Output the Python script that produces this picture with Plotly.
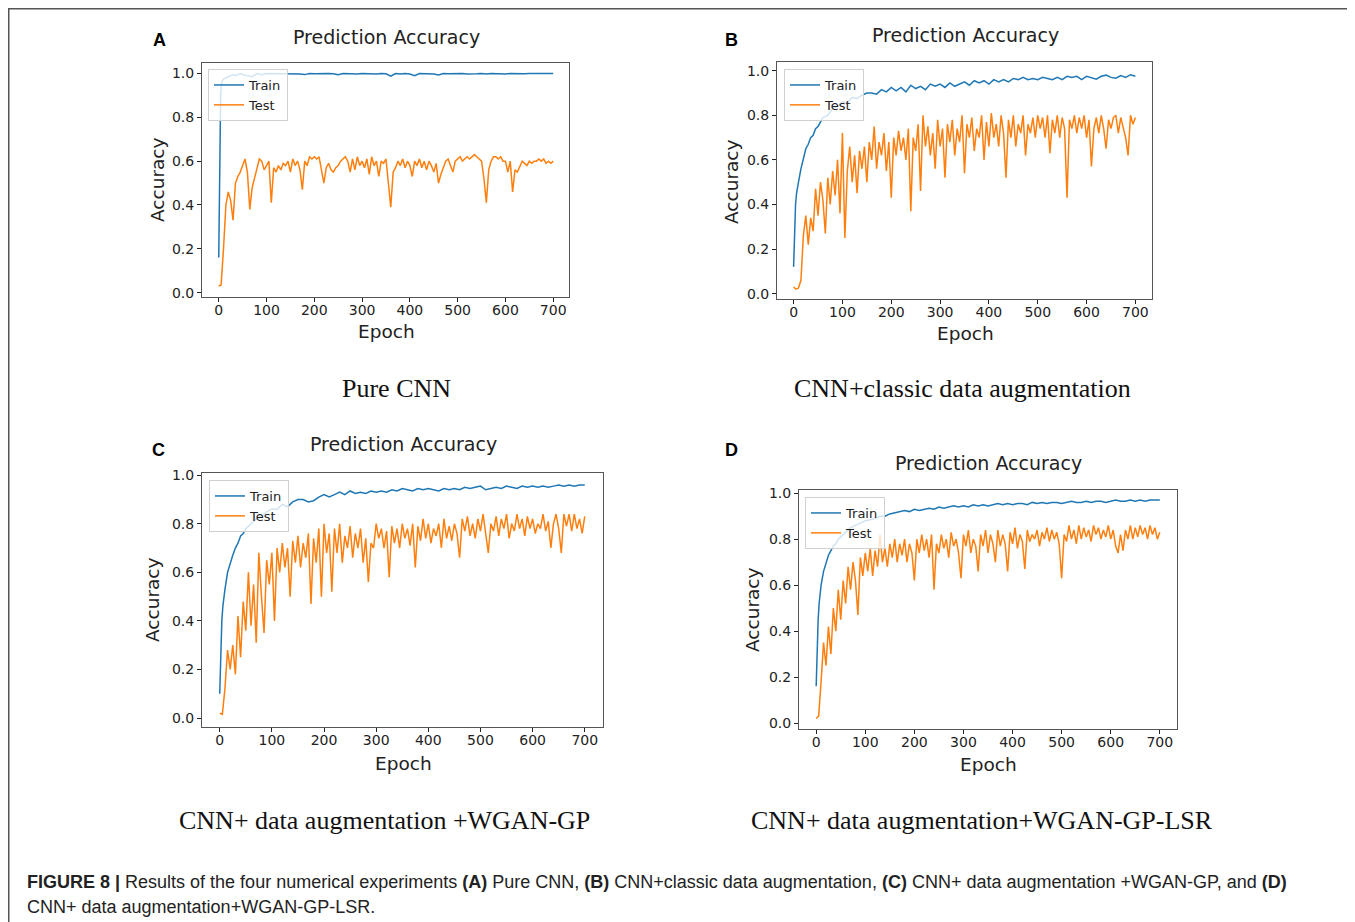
import plotly.graph_objects as go

# target picture size; the page body adds an 8px margin, so the figure is shifted by it
W, H = 1355, 922
OFF = 8
FW, FH = W - OFF, H - OFF

# epochs sampled for the test curves, and for the train curves
EPOCHS = list(range(0, 701, 5))
TRAIN_EPOCHS = [0, 2, 4, 6, 8, 10, 15, 20, 25, 30, 35, 40, 45, 50] + list(range(60, 701, 10))

# (A) Pure CNN
test_a = [0.03, 0.035, 0.2, 0.40, 0.46, 0.42, 0.33, 0.5, 0.53, 0.55, 0.58, 0.61, 0.55, 0.38, 0.48, 0.52, 0.57,
          0.61, 0.6, 0.56, 0.58, 0.6, 0.41, 0.57, 0.55, 0.58, 0.56, 0.59, 0.58, 0.6, 0.55, 0.61, 0.58, 0.6,
          0.56, 0.47, 0.6, 0.58, 0.62, 0.61, 0.62, 0.61, 0.62, 0.56, 0.5, 0.57, 0.59, 0.56, 0.55, 0.57, 0.58,
          0.6, 0.61, 0.62, 0.6, 0.55, 0.61, 0.56, 0.62, 0.58, 0.6, 0.57, 0.61, 0.54, 0.62, 0.58, 0.6, 0.53,
          0.6, 0.59, 0.61, 0.5, 0.39, 0.55, 0.57, 0.6, 0.58, 0.61, 0.57, 0.6, 0.58, 0.53, 0.6, 0.58, 0.61,
          0.57, 0.6, 0.56, 0.6, 0.58, 0.55, 0.59, 0.5, 0.54, 0.57, 0.6, 0.61, 0.58, 0.55, 0.6, 0.61, 0.62,
          0.6, 0.61, 0.62, 0.61, 0.62, 0.63, 0.62, 0.61, 0.6, 0.52, 0.41, 0.56, 0.6, 0.62, 0.62, 0.61, 0.62,
          0.6, 0.6, 0.55, 0.6, 0.46, 0.56, 0.55, 0.58, 0.6, 0.59, 0.58, 0.6, 0.59, 0.6, 0.6, 0.61, 0.6,
          0.61, 0.59, 0.6, 0.59, 0.6]
train_a = [0.16, 0.55, 0.9, 0.96, 0.97, 0.975, 0.98, 0.985, 0.99, 0.995, 0.99, 0.995, 1.0, 0.995,
           0.99, 0.985, 1.0, 0.995, 1.0,
           1.0, 0.998, 1.0, 0.999, 1.0, 1.0, 0.998, 0.995, 1.0, 0.999, 1.0, 0.998, 1.0, 0.999, 0.994,
           1.0, 0.999, 1.0, 0.998, 1.0, 0.999, 1.0, 0.998, 1.0, 0.999, 0.988, 1.0, 0.998, 1.0, 0.998,
           0.99, 1.0, 0.999, 1.0, 0.998, 0.993, 1.0, 0.999, 1.0, 0.999, 1.0, 0.998, 1.0, 0.999, 1.0,
           0.998, 1.0, 0.999, 1.0, 0.998, 1.0, 0.999, 1.0, 0.999, 1.0, 1.0, 0.999, 1.0, 1.0, 1.0]

# (B) CNN+classic data augmentation
test_b = [0.03, 0.02, 0.025, 0.06,
          0.26, 0.35, 0.22, 0.34, 0.28,
          0.47, 0.35, 0.5, 0.42, 0.27, 0.52, 0.4, 0.55, 0.44, 0.6, 0.36,
          0.72, 0.25, 0.55, 0.66, 0.5, 0.62, 0.45, 0.64, 0.56, 0.66, 0.5, 0.68, 0.6, 0.75, 0.56, 0.68, 0.62,
          0.72, 0.55, 0.68,
          0.43, 0.7, 0.62, 0.73, 0.64, 0.7, 0.6, 0.74, 0.37, 0.7, 0.64, 0.76, 0.46, 0.8, 0.66, 0.75, 0.62,
          0.72, 0.56, 0.78,
          0.66, 0.74, 0.52, 0.76, 0.68, 0.78, 0.62, 0.74, 0.68, 0.8, 0.54, 0.76, 0.7, 0.79, 0.64, 0.74, 0.7,
          0.8, 0.6, 0.77,
          0.66, 0.81, 0.7, 0.76, 0.66, 0.8, 0.72, 0.52, 0.78, 0.7, 0.8, 0.66, 0.76, 0.72, 0.8, 0.62, 0.76,
          0.72, 0.79, 0.7,
          0.8, 0.74, 0.79, 0.7, 0.8, 0.63, 0.78, 0.72, 0.8, 0.7, 0.79, 0.74, 0.43, 0.78, 0.74, 0.8, 0.72,
          0.79, 0.74, 0.8,
          0.7, 0.78, 0.57, 0.74, 0.79, 0.72, 0.8, 0.74, 0.65, 0.78, 0.74, 0.79, 0.8, 0.72, 0.79, 0.74, 0.7,
          0.62, 0.8, 0.76, 0.79]
train_b = [0.12, 0.3, 0.4, 0.45, 0.47, 0.5, 0.56, 0.6, 0.65, 0.67, 0.7, 0.71, 0.74, 0.75,
           0.79, 0.8, 0.83, 0.84, 0.86, 0.855, 0.88, 0.875, 0.89, 0.9, 0.9, 0.895, 0.915, 0.905, 0.925,
           0.91, 0.925, 0.905, 0.935, 0.92, 0.93, 0.915, 0.94, 0.93, 0.94, 0.925, 0.945, 0.93, 0.94, 0.95,
           0.935, 0.955, 0.945, 0.955, 0.94, 0.96, 0.95, 0.96, 0.95, 0.965, 0.96, 0.97, 0.96, 0.965, 0.96,
           0.97, 0.965, 0.96, 0.97, 0.96, 0.975, 0.97, 0.975, 0.96, 0.975, 0.97, 0.962, 0.975, 0.98, 0.97,
           0.966, 0.978, 0.97, 0.982, 0.975]

# (C) CNN+ data augmentation +WGAN-GP
test_c = [0.02, 0.015, 0.12, 0.28,
          0.2, 0.3, 0.18, 0.42, 0.25,
          0.48, 0.36, 0.6, 0.38, 0.55, 0.31, 0.68, 0.5, 0.35, 0.65, 0.55,
          0.68, 0.4, 0.7, 0.6, 0.72, 0.62, 0.7, 0.5, 0.73, 0.64, 0.75, 0.62, 0.72, 0.66, 0.76, 0.47, 0.74,
          0.64, 0.78, 0.5,
          0.8, 0.68, 0.76, 0.52, 0.78, 0.68, 0.8, 0.64, 0.75, 0.7, 0.79, 0.66, 0.76, 0.7, 0.78, 0.64, 0.74,
          0.56, 0.72, 0.7,
          0.8, 0.74, 0.78, 0.7, 0.77, 0.58, 0.79, 0.72, 0.78, 0.7, 0.8, 0.74, 0.78, 0.71, 0.8, 0.62, 0.79,
          0.73, 0.82, 0.74,
          0.8, 0.72, 0.78, 0.75, 0.8, 0.7, 0.82, 0.74, 0.79, 0.73, 0.8, 0.76, 0.66, 0.82, 0.77, 0.83, 0.75,
          0.8, 0.74, 0.82,
          0.77, 0.84, 0.76, 0.68, 0.8, 0.77, 0.83, 0.75, 0.82, 0.78, 0.84, 0.74, 0.8, 0.77, 0.84, 0.78,
          0.82, 0.75, 0.83, 0.78,
          0.82, 0.76, 0.8, 0.78, 0.84, 0.77, 0.81, 0.7, 0.8, 0.84, 0.78, 0.68, 0.84, 0.79, 0.84, 0.77,
          0.84, 0.78, 0.82, 0.76, 0.83]
train_c = [0.1, 0.3, 0.4, 0.46, 0.5, 0.53, 0.6, 0.64, 0.67, 0.7, 0.72, 0.75, 0.76, 0.78,
           0.8, 0.82, 0.83, 0.85, 0.86, 0.86, 0.88, 0.87, 0.89, 0.9, 0.9, 0.89, 0.895, 0.91, 0.92, 0.91,
           0.92, 0.93, 0.92, 0.935, 0.925, 0.93, 0.925, 0.935, 0.93, 0.935, 0.93, 0.94, 0.935, 0.945,
           0.94, 0.935, 0.945, 0.94, 0.945, 0.94, 0.935, 0.945, 0.94, 0.945, 0.94, 0.95, 0.945, 0.95,
           0.955, 0.94, 0.945, 0.95, 0.945, 0.955, 0.95, 0.945, 0.955, 0.95, 0.955, 0.95, 0.955, 0.95,
           0.955, 0.96, 0.955, 0.96, 0.955, 0.96, 0.96]

# (D) CNN+ data augmentation+WGAN-GP-LSR
test_d = [0.02, 0.03, 0.18, 0.35,
          0.25, 0.42, 0.3, 0.5, 0.4,
          0.58, 0.45, 0.62, 0.52, 0.68, 0.58, 0.7, 0.62, 0.47, 0.72, 0.64,
          0.74, 0.66, 0.76, 0.64, 0.75, 0.68, 0.82, 0.7, 0.76, 0.68, 0.78, 0.72, 0.8, 0.7, 0.78, 0.73, 0.8,
          0.7, 0.78, 0.74,
          0.62, 0.8, 0.74, 0.82, 0.75, 0.8, 0.72, 0.82, 0.58, 0.78, 0.74, 0.82, 0.76, 0.8, 0.72, 0.83, 0.77,
          0.8, 0.74, 0.63,
          0.82, 0.77, 0.84, 0.74, 0.8, 0.77, 0.66, 0.82, 0.77, 0.84, 0.74, 0.82, 0.78, 0.7, 0.84, 0.77,
          0.82, 0.78, 0.66, 0.83,
          0.78, 0.85, 0.76, 0.82, 0.79, 0.67, 0.84, 0.79, 0.82, 0.8, 0.84, 0.77, 0.83, 0.8, 0.85, 0.79,
          0.84, 0.8, 0.83, 0.78,
          0.63, 0.82, 0.79, 0.86, 0.8, 0.84, 0.78, 0.86, 0.8, 0.85, 0.81, 0.84, 0.79, 0.86, 0.82, 0.85,
          0.8, 0.84, 0.81, 0.86,
          0.8, 0.84, 0.77, 0.74, 0.82, 0.75, 0.84, 0.8, 0.86, 0.8, 0.85, 0.81, 0.86, 0.82, 0.85, 0.8, 0.86,
          0.82, 0.85, 0.8, 0.83]
train_d = [0.16, 0.35, 0.45, 0.52, 0.56, 0.6, 0.66, 0.7, 0.73, 0.75, 0.77, 0.78, 0.8, 0.81,
           0.83, 0.85, 0.86, 0.87, 0.88, 0.885, 0.89, 0.9, 0.9, 0.91, 0.915, 0.92, 0.925, 0.92, 0.93,
           0.925, 0.93, 0.935, 0.93, 0.94, 0.935, 0.94, 0.945, 0.94, 0.945, 0.94, 0.95, 0.945, 0.95,
           0.945, 0.95, 0.955, 0.95, 0.955, 0.95, 0.955, 0.955, 0.95, 0.96, 0.955, 0.96, 0.955, 0.96,
           0.96, 0.955, 0.96, 0.965, 0.96, 0.96, 0.965, 0.96, 0.965, 0.965, 0.96, 0.965, 0.97, 0.965,
           0.965, 0.97, 0.965, 0.97, 0.965, 0.97, 0.97, 0.97]

X_TICKS = [0, 100, 200, 300, 400, 500, 600, 700]
Y_TICKS = [0.0, 0.2, 0.4, 0.6, 0.8, 1.0]
SUBCAPTIONS = ["Pure CNN", "CNN+classic data augmentation",
               "CNN+ data augmentation +WGAN-GP", "CNN+ data augmentation+WGAN-GP-LSR"]
LETTERS = ["A", "B", "C", "D"]

BLUE, ORANGE = "#1f77b4", "#ff7f0e"


def fx(px):
    return (px - OFF) / FW


def fy(py):
    return 1 - (py - OFF) / FH


# per panel: frame in pixels (left, right, top, bottom), x range, y range, text positions
panels = [
    dict(frame=(202, 569, 63, 297), xr=[-35, 733], yr=[-0.02, 1.048],
         train=train_a, test=test_a, title=(386, 37), epoch=(386, 331), acc=(157, 180),
         letter=(159, 40), sub=(396, 389), legend=(208, 69)),
    dict(frame=(777, 1152, 62, 299), xr=[-34, 734], yr=[-0.024, 1.039],
         train=train_b, test=test_b, title=(965, 35), epoch=(965, 334), acc=(731, 182),
         letter=(731, 40), sub=(962, 389), legend=(784, 69)),
    dict(frame=(202, 603, 473, 727), xr=[-34, 735], yr=[-0.037, 1.009],
         train=train_c, test=test_c, title=(403, 444), epoch=(403, 763), acc=(152, 600),
         letter=(158, 450), sub=(384, 820), legend=(209, 480)),
    dict(frame=(799, 1177, 490, 729), xr=[-35, 735], yr=[-0.026, 1.014],
         train=train_d, test=test_d, title=(988, 463), epoch=(988, 764), acc=(752, 610),
         letter=(731, 450), sub=(982, 820), legend=(805, 497)),
]

fig = go.Figure()
annotations = []
layout = {}


def txt(pos, text, size, family="DejaVu Sans", angle=0, color="#222"):
    annotations.append(dict(x=fx(pos[0]), y=fy(pos[1]), xref="paper", yref="paper",
                            text=text, showarrow=False, textangle=angle,
                            xanchor="center", yanchor="middle",
                            font=dict(family=family, size=size, color=color)))


for i, p in enumerate(panels):
    n = "" if i == 0 else str(i + 1)
    leg = "legend" + n
    fig.add_trace(go.Scatter(x=TRAIN_EPOCHS, y=p["train"], mode="lines", name="Train",
                             line=dict(color=BLUE, width=1.5), xaxis="x" + n, yaxis="y" + n,
                             legend=leg))
    fig.add_trace(go.Scatter(x=EPOCHS, y=p["test"], mode="lines", name="Test",
                             line=dict(color=ORANGE, width=1.5), xaxis="x" + n, yaxis="y" + n,
                             legend=leg))
    l, r, t, b = p["frame"]
    axis_common = dict(showgrid=False, zeroline=False, showline=True, mirror=True,
                       linecolor="#555", linewidth=1, ticks="outside", ticklen=4,
                       tickcolor="#222", automargin=False,
                       tickfont=dict(family="DejaVu Sans", size=14, color="#222"))
    layout["xaxis" + n] = dict(domain=[fx(l), fx(r)], range=p["xr"], tickvals=X_TICKS,
                               anchor="y" + n, ticklabelstandoff=-4, **axis_common)
    layout["yaxis" + n] = dict(domain=[fy(b), fy(t)], range=p["yr"], tickvals=Y_TICKS,
                               tickformat=".1f", anchor="x" + n, **axis_common)
    lx, ly = p["legend"]
    layout[leg] = dict(x=fx(lx), y=fy(ly), xanchor="left", yanchor="top",
                       bgcolor="rgba(255,255,255,0.8)", bordercolor="#d0d0d0", borderwidth=1,
                       font=dict(family="DejaVu Sans", size=13, color="#222"),
                       tracegroupgap=0)

    txt(p["title"], "Prediction Accuracy", 19)
    txt(p["epoch"], "Epoch", 18.5)
    txt(p["acc"], "Accuracy", 18.5, angle=-90)
    txt(p["letter"], "<b>" + LETTERS[i] + "</b>", 18, family="Liberation Sans", color="#000")
    txt(p["sub"], SUBCAPTIONS[i], 26, family="Liberation Serif", color="#111")

caption1 = ("<b>FIGURE 8 |</b> Results of the four numerical experiments <b>(A)</b> Pure CNN, "
            "<b>(B)</b> CNN+classic data augmentation, <b>(C)</b> CNN+ data augmentation +WGAN-GP, "
            "and <b>(D)</b>")
caption2 = "CNN+ data augmentation+WGAN-GP-LSR."
for line, py in [(caption1, 882), (caption2, 907)]:
    annotations.append(dict(x=fx(25), y=fy(py), xref="paper", yref="paper", text=line,
                            showarrow=False, xanchor="left", yanchor="middle",
                            font=dict(family="Liberation Sans", size=18, color="#222")))

# outer frame of the figure (top and left edges)
shapes = [
    dict(type="line", xref="paper", yref="paper", x0=fx(8), x1=1, y0=fy(8.5), y1=fy(8.5),
         line=dict(color="#555", width=2)),
    dict(type="line", xref="paper", yref="paper", x0=fx(8.5), x1=fx(8.5), y0=fy(8), y1=0,
         line=dict(color="#555", width=2)),
]

fig.update_layout(width=FW, height=FH,
                  margin=dict(l=0, r=0, t=0, b=0, pad=0, autoexpand=False),
                  paper_bgcolor="white", plot_bgcolor="white", showlegend=True,
                  annotations=annotations, shapes=shapes, **layout)

fig.write_html("out.html")
